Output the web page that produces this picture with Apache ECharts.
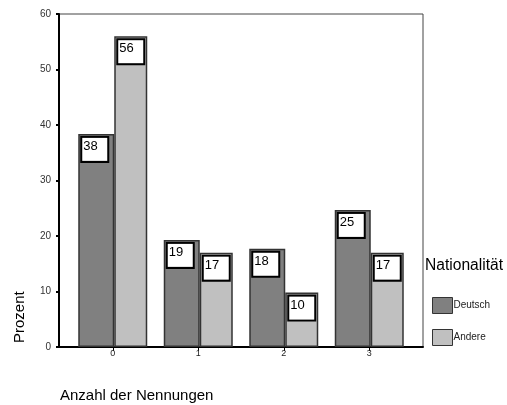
<!DOCTYPE html>
<html><head><meta charset="utf-8">
<script src="https://cdn.jsdelivr.net/npm/echarts@6/dist/echarts.min.js"></script>
<style>html,body{margin:0;padding:0;background:#fff}#c{width:507px;height:405px}</style>
</head><body><div id="c"></div>
<script>
const categories = ['0', '1', '2', '3'];
const deutsch = [38.4, 19.3, 17.7, 24.7];
const andere = [56.0, 17.0, 9.8, 17.0];
const yTicks = [0, 10, 20, 30, 40, 50, 60];
const seriesNames = ['Deutsch', 'Andere'];

const FONT = 'Liberation Sans, Arial, sans-serif';
const chart = echarts.init(document.getElementById('c'), null, {renderer: 'canvas'});

const labelStyle = {
  show: true,
  position: 'insideTopLeft',
  distance: 4,
  formatter: p => String(Math.round(p.value)),
  backgroundColor: '#fff',
  borderColor: '#000',
  borderWidth: 2,
  width: 22,
  height: 20,
  padding: [2, 2, 1, 1],
  fontSize: 13,
  fontFamily: FONT,
  color: '#000',
  align: 'left',
  verticalAlign: 'top'
};

chart.setOption({
  animation: false,
  backgroundColor: '#fff',
  textStyle: {fontFamily: FONT},
  title: [
    {text: 'Nationalität', left: 425, top: 258, padding: 0, textStyle: {fontSize: 15.6, fontWeight: 'normal', color: '#000', fontFamily: FONT}},
    {text: 'Anzahl der Nennungen', left: 60, top: 388, padding: 0, textStyle: {fontSize: 15, fontWeight: 'normal', color: '#000', fontFamily: FONT}}
  ],
  grid: [
    {left: 59, right: 84, top: 14, bottom: 58, show: true, borderColor: '#444', borderWidth: 1, backgroundColor: 'transparent'},
    {left: 70, right: 95, top: 14, bottom: 58}
  ],
  xAxis: [
    {gridIndex: 0, type: 'value', min: 0, max: 1, axisLine: {show: true, lineStyle: {color: '#000', width: 2}},
     axisTick: {show: false}, axisLabel: {show: false}, splitLine: {show: false}},
    {gridIndex: 1, type: 'category', data: categories, axisLine: {show: false},
     axisTick: {show: true, alignWithLabel: true, length: 4, lineStyle: {color: '#000', width: 1}},
     axisLabel: {fontSize: 9, color: '#222', margin: 2, fontFamily: FONT}}
  ],
  yAxis: [
    {gridIndex: 0, type: 'value', min: 0, max: 60, interval: 10,
     name: 'Prozent', nameLocation: 'start', nameRotate: 90, nameGap: 0,
     nameTextStyle: {fontSize: 15, color: '#000', fontFamily: FONT, align: 'left', verticalAlign: 'bottom', padding: [0, 0, 32, 4]},
     axisLine: {show: true, lineStyle: {color: '#000', width: 2}},
     axisTick: {show: true, length: 3, lineStyle: {color: '#000', width: 2}},
     axisLabel: {fontSize: 10, color: '#333', margin: 8, fontFamily: FONT, customValues: yTicks},
     splitLine: {show: false}},
    {gridIndex: 1, type: 'value', min: 0, max: 60, show: false}
  ],
  legend: {
    orient: 'vertical', left: 432, top: 297, padding: 0, itemWidth: 20, itemHeight: 16, itemGap: 15,
    icon: 'rect', textStyle: {fontSize: 10, color: '#222', fontFamily: FONT, padding: [0, 0, 0, -4]},
    itemStyle: {borderColor: '#333', borderWidth: 1},
    data: seriesNames
  },
  series: [
    {name: seriesNames[0], type: 'bar', xAxisIndex: 1, yAxisIndex: 1, data: deutsch, barWidth: 36, barGap: '0%',
     itemStyle: {color: '#808080', borderColor: '#333', borderWidth: 1.5}, label: labelStyle},
    {name: seriesNames[1], type: 'bar', xAxisIndex: 1, yAxisIndex: 1, data: andere, barWidth: 33, barGap: '0%',
     itemStyle: {color: '#c0c0c0', borderColor: '#333', borderWidth: 1.5}, label: labelStyle}
  ]
});
</script></body></html>
